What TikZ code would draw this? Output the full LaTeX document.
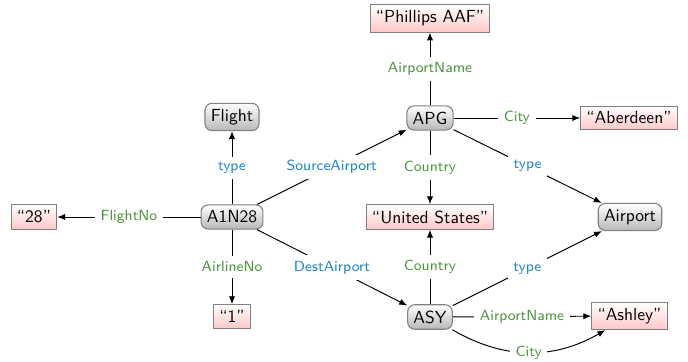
\documentclass[tikz,border=0pt]{standalone}
\usetikzlibrary{arrows.meta}
\definecolor{lblgreen}{RGB}{78,150,62}
\definecolor{lblblue}{RGB}{30,134,204}
\begin{document}
\begin{tikzpicture}[x=0.5714pt,y=-0.5714pt,
  font=\sffamily,
  cls/.style={draw=black!50, line width=0.6pt, rounded corners=4pt, top color=white, bottom color=black!28, inner sep=3.3pt},
  lit/.style={draw=black!50, line width=0.6pt, top color=white, bottom color=red!22, inner sep=3.3pt},
  rel/.style={-{Latex[length=4.5pt,width=3.6pt]}, line width=0.55pt},
  lblfont/.style={font=\sffamily\fontsize{8.4}{10}\selectfont},
  gl/.style={fill=white, text=lblgreen, lblfont, inner sep=3.2pt, midway},
  bl/.style={fill=white, text=lblblue, lblfont, inner sep=3.2pt, midway}]
\useasboundingbox (0,0) rectangle (688,362);
% nodes
\node[cls] (a1n28) at (232,217) {A1N28};
\node[cls] (flight) at (232,117) {Flight};
\node[lit] (n28) at (34,217) {\textquotedblleft 28\textquotedblright};
\node[lit] (n1) at (232,316.5) {\textquotedblleft 1\textquotedblright};
\node[cls] (apg) at (430,118) {APG};
\node[lit] (phillips) at (430,18.5) {\textquotedblleft Phillips AAF\textquotedblright};
\node[lit] (aberdeen) at (629,118) {\textquotedblleft Aberdeen\textquotedblright};
\node[lit] (us) at (430,217) {\textquotedblleft United States\textquotedblright};
\node[cls] (airport) at (630,217) {Airport};
\node[cls] (asy) at (430,317) {ASY};
\node[lit] (ashley) at (629.5,316) {\textquotedblleft Ashley\textquotedblright};
% edges
\draw[rel] (a1n28) -- node[bl]{type} (flight);
\draw[rel] (a1n28) -- node[gl]{FlightNo} (n28);
\draw[rel] (a1n28) -- node[gl]{AirlineNo} (n1);
\draw[rel] (a1n28) -- node[bl]{SourceAirport} (apg);
\draw[rel] (a1n28) -- node[bl]{DestAirport} (asy);
\draw[rel] (apg) -- node[gl]{AirportName} (phillips);
\draw[rel] (apg) -- node[gl]{City} (aberdeen);
\draw[rel] (apg) -- node[gl]{Country} (us);
\draw[rel] (apg) -- node[bl]{type} (airport);
\draw[rel] (asy) -- node[gl]{Country} (us);
\draw[rel] (asy) -- node[bl]{type} (airport);
\draw[rel] (asy) -- node[gl]{AirportName} (ashley);
\draw[rel] (asy) to[bend right=30] node[gl]{City} (ashley);
\end{tikzpicture}
\end{document}
